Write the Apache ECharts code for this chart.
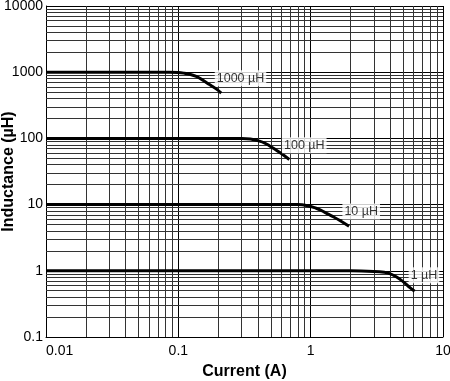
<!DOCTYPE html>
<html><head><meta charset="utf-8">
<script src="https://cdn.jsdelivr.net/npm/echarts@6/dist/echarts.min.js"></script>
<style>html,body{margin:0;padding:0;background:#fff}#c{width:450px;height:381px}</style>
</head><body><div id="c"></div>
<script>
// ---- data ----
const xTickLabels = ['0.01', '0.1', '1', '10'];
const yTickLabels = ['0.1', '1', '10', '100', '1000', '10000'];
const seriesNames = ['1000 µH', '100 µH', '10 µH', '1 µH'];

const current1000 = [0.01, 0.085, 0.1, 0.11, 0.122, 0.135, 0.15, 0.172, 0.192, 0.211];
const induct1000  = [1000, 1000, 990, 968, 930, 870, 780, 650, 565, 485];

const current100 = [0.01, 0.3, 0.35, 0.41, 0.45, 0.49, 0.54, 0.6, 0.69];
const induct100  = [100, 100, 98, 91, 85, 77, 68, 59, 48];

const current10 = [0.01, 0.8, 0.95, 1.1, 1.2, 1.3, 1.45, 1.65, 1.95];
const induct10  = [10, 10, 9.6, 8.8, 8.2, 7.5, 6.7, 5.8, 4.7];

const current1 = [0.01, 2, 3, 3.6, 4.0, 4.4, 4.8, 5.2, 5.6, 6.1];
const induct1  = [1, 1, 0.98, 0.95, 0.9, 0.82, 0.73, 0.64, 0.56, 0.49];

const labelX = [0.295, 0.895, 2.41, 7.18];
const labelY = [812, 78.5, 7.85, 0.855];

const minorMultiples = [2, 3, 4, 5, 6, 7, 8, 9];
const xDecades = [0.01, 0.1, 1];
const yDecades = [0.1, 1, 10, 100, 1000];

// ---- build ----
const FONT = '"Liberation Sans", Arial, Helvetica, sans-serif';
const zip = (xs, ys) => xs.map((x, i) => [x, ys[i]]);
const curves = [
  zip(current1000, induct1000),
  zip(current100, induct100),
  zip(current10, induct10),
  zip(current1, induct1)
];
const xMinor = [], yMinor = [];
xDecades.forEach(d => minorMultiples.forEach(m => xMinor.push(+(d * m).toPrecision(6))));
yDecades.forEach(d => minorMultiples.forEach(m => yMinor.push(+(d * m).toPrecision(6))));

const fmt = labels => v => {
  const hit = labels.find(l => Math.abs(+l - v) / Math.abs(+l) < 1e-6);
  return hit !== undefined ? hit : '';
};

const chart = echarts.init(document.getElementById('c'), null, {renderer: 'canvas'});
const series = [];
series.push({
  type: 'line', data: [[0.01, 1]], showSymbol: false, silent: true,
  lineStyle: {opacity: 0}, z: 1,
  markLine: {
    silent: true, symbol: 'none', animation: false, z: 3,
    label: {show: false},
    lineStyle: {color: '#333', width: 1, type: 'solid'},
    emphasis: {disabled: true},
    data: xMinor.map(v => ({xAxis: v})).concat(yMinor.map(v => ({yAxis: v})))
  }
});
curves.forEach((d, i) => series.push({
  type: 'line', name: seriesNames[i], data: d, showSymbol: false,
  smooth: 0.4, z: 10,
  lineStyle: {color: '#000', width: 3, cap: 'butt', join: 'round'}, silent: true
}));
series.push({
  type: 'scatter', z: 20, symbolSize: 0, silent: true,
  data: labelX.map((x, i) => ({value: [x, labelY[i]], name: seriesNames[i]})),
  label: {
    show: true, position: 'inside', formatter: p => p.name,
    color: '#000', fontFamily: FONT, fontSize: 12.5,
    backgroundColor: '#fff', padding: [2, 2, 1, 2]
  }
});

chart.setOption({
  animation: false,
  backgroundColor: '#fff',
  grid: {left: 46, right: 7, top: 6, bottom: 44, containLabel: false, outerBoundsMode: 'none'},
  xAxis: {
    type: 'log', logBase: 10, min: 0.01, max: 10, splitNumber: 3,
    name: 'Current (A)', nameLocation: 'middle', nameGap: 27, nameMoveOverlap: false,
    nameTextStyle: {fontFamily: FONT, fontSize: 16, fontWeight: 'bold', color: '#000'},
    axisLine: {show: true, lineStyle: {color: '#000', width: 1}},
    axisTick: {show: false},
    axisLabel: {fontFamily: FONT, fontSize: 14, color: '#000', margin: 7,
      formatter: fmt(xTickLabels), alignMinLabel: 'left'},
    splitLine: {show: true, lineStyle: {color: '#000', width: 1}}
  },
  yAxis: {
    type: 'log', logBase: 10, min: 0.1, max: 10000, splitNumber: 5,
    name: 'Inductance (µH)', nameLocation: 'middle', nameGap: 29, nameRotate: 90,
    nameMoveOverlap: false,
    nameTextStyle: {fontFamily: FONT, fontSize: 16, fontWeight: 'bold', color: '#000'},
    axisLine: {show: true, lineStyle: {color: '#000', width: 1}},
    axisTick: {show: false},
    axisLabel: {fontFamily: FONT, fontSize: 14, color: '#000', margin: 3,
      formatter: fmt(yTickLabels)},
    splitLine: {show: true, lineStyle: {color: '#000', width: 1}}
  },
  series: series
});
</script></body></html>
